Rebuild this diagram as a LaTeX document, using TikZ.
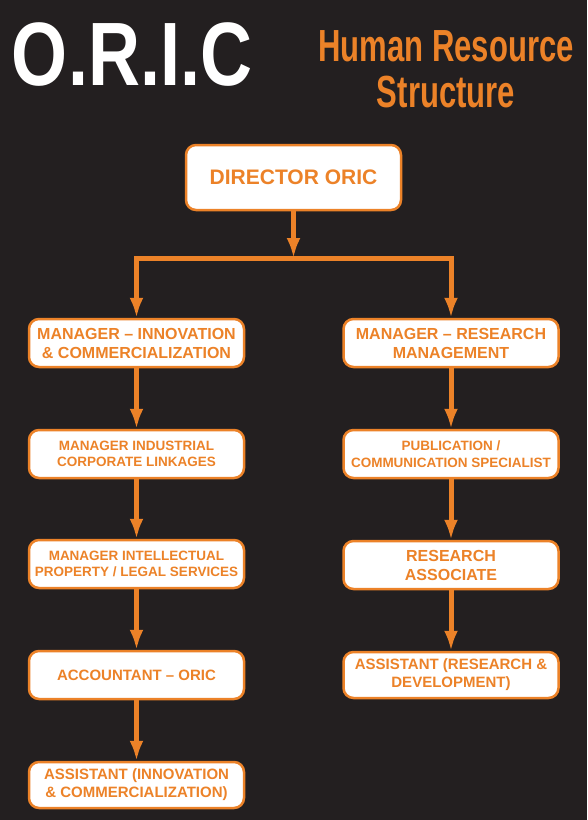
\documentclass[tikz,border=0pt]{standalone}
\usepackage{fontspec}
\setmainfont{Liberation Sans}
\usepackage{tikz}
\usetikzlibrary{arrows.meta,positioning}
\definecolor{ORICOrange}{RGB}{236,130,40}
\definecolor{bgdark}{RGB}{35,31,32}

\begin{document}
\begin{tikzpicture}[x=1pt,y=-1pt,
  orgbox/.style={draw=ORICOrange,line width=2.5pt,fill=white,rounded corners=10pt,
    minimum width=215pt,minimum height=48pt,align=center,text=ORICOrange,inner sep=2pt},
  txtbig/.style={font=\fontsize{16}{19}\selectfont\bfseries},
  txtmid/.style={font=\fontsize{15}{18}\selectfont\bfseries},
  txtsmall/.style={font=\fontsize{13.5}{16.5}\selectfont\bfseries},
  link/.style={ORICOrange,line width=5pt},
  arr/.style={link,-{Latex[length=20pt,width=14pt]}}]
% background and page size
\fill[bgdark] (0,0) rectangle (587,820);
\useasboundingbox (0,0) rectangle (587,820);
% headings
\node[text=white,font=\fontsize{90}{90}\selectfont\bfseries,xscale=0.8,inner sep=0pt] (title) at (132,55) {O.R.I.C};
\node[text=ORICOrange,font=\fontsize{45}{46}\selectfont\bfseries,xscale=0.69,align=center,inner sep=0pt] (subtitle) at (446,69) {Human Resource\\Structure};
% director
\node[orgbox,minimum height=65pt,font=\fontsize{21}{24}\selectfont\bfseries] (dir) at (293.5,177.5) {DIRECTOR ORIC};
% left column
\node[orgbox,txtbig] (mi) at (136.5,343) {MANAGER -- INNOVATION\\\& COMMERCIALIZATION};
\node[orgbox,txtsmall] (ml) at (136.5,454) {MANAGER INDUSTRIAL\\CORPORATE LINKAGES};
\node[orgbox,txtsmall] (ip) at (136.5,564) {MANAGER INTELLECTUAL\\PROPERTY / LEGAL SERVICES};
\node[orgbox,txtmid] (acc) at (136.5,675) {ACCOUNTANT -- ORIC};
\node[orgbox,txtmid,minimum height=46pt] (ai) at (136.5,785) {ASSISTANT (INNOVATION\\\& COMMERCIALIZATION)};
% right column
\node[orgbox,txtbig] (mr) at (451,343) {MANAGER -- RESEARCH\\MANAGEMENT};
\node[orgbox,txtsmall] (ps) at (451,454) {PUBLICATION /\\COMMUNICATION SPECIALIST};
\node[orgbox,txtbig] (ra) at (451,565) {RESEARCH\\ASSOCIATE};
\node[orgbox,txtmid,minimum height=46pt] (ar) at (451,675) {ASSISTANT (RESEARCH \&\\DEVELOPMENT)};
% branching bar
\coordinate (jn) at (293.5,258);
\coordinate (jl) at (136.5,258);
\coordinate (jr) at (451,258);
\draw[arr] (dir) -- (jn);
\draw[link,line cap=rect] (jl) -- (jr);
\draw[arr] (jl) -- (mi);
\draw[arr] (jr) -- (mr);
\foreach \a/\b in {mi/ml,ml/ip,ip/acc,acc/ai,mr/ps,ps/ra,ra/ar}
  \draw[arr] (\a) -- (\b);
\end{tikzpicture}
\end{document}
